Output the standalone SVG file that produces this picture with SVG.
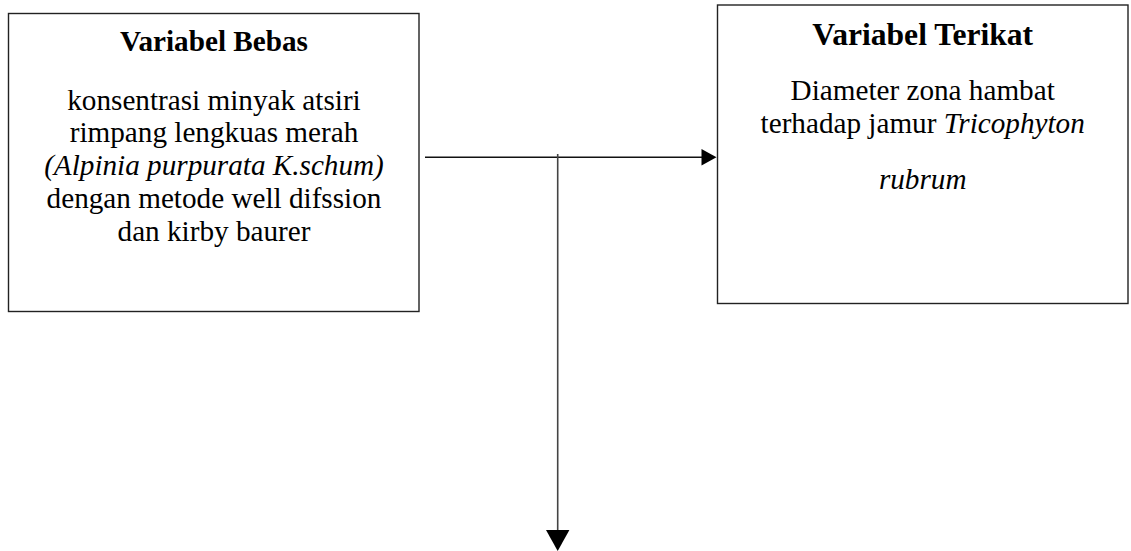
<svg xmlns="http://www.w3.org/2000/svg" width="1131" height="551" viewBox="0 0 1131 551">
<style>
.box{fill:#fff;stroke:#222;stroke-width:1.4}
.t{font-family:'Liberation Serif','Times New Roman','DejaVu Serif',serif;fill:#000;text-anchor:middle}
.h{font-weight:bold}
.b{font-size:29.2px}
.ln{stroke:#111;stroke-width:1.4;fill:none}
.vl{stroke:#444;stroke-width:1.6;fill:none}
.ah{fill:#000}
</style>
<rect width="1131" height="551" fill="#fff"/>
<g id="node-bebas" font-family="Liberation Serif, serif">
<rect class="box" x="8.5" y="13.5" width="410.5" height="298"/>
<text class="t h" x="214" y="51" font-size="29.2">Variabel Bebas</text>
<text class="t b" x="214" y="109.5">konsentrasi minyak atsiri</text>
<text class="t b" x="214" y="142">rimpang lengkuas merah</text>
<text class="t b" x="214" y="174.5" font-style="italic">(Alpinia purpurata K.schum)</text>
<text class="t b" x="214" y="208">dengan metode well difssion</text>
<text class="t b" x="214" y="240.5">dan kirby baurer</text>
</g>
<g id="node-terikat" font-family="Liberation Serif, serif">
<rect class="box" x="717.5" y="5" width="410.5" height="298.5"/>
<text class="t h" x="922.7" y="45" font-size="31.6">Variabel Terikat</text>
<text class="t b" x="922.7" y="100">Diameter zona hambat</text>
<text class="t b" x="922.7" y="133.3">terhadap jamur <tspan font-style="italic">Tricophyton</tspan></text>
<text class="t b" x="922.7" y="189.3" font-style="italic">rubrum</text>
</g>
<g id="connectors">
<line class="ln" x1="425" y1="157.3" x2="703" y2="157.3"/>
<polygon class="ah" points="701.5,149 716.5,157.3 701.5,165.5"/>
<line class="vl" x1="557.7" y1="154" x2="557.7" y2="531"/>
<polygon class="ah" points="546,530 569.4,530 557.7,551"/>
</g>
</svg>
